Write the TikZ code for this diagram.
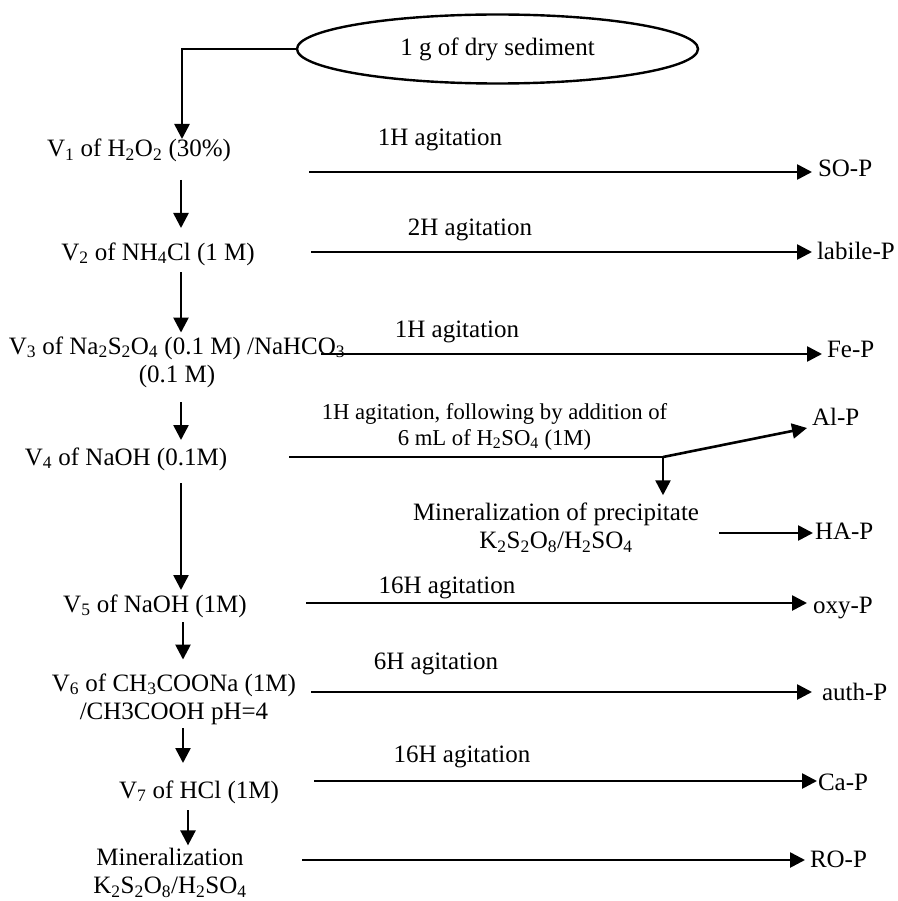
\documentclass[tikz,border=0pt]{standalone}
\usepackage{fontspec}
\setmainfont{Liberation Serif}
\usetikzlibrary{arrows.meta,shapes.geometric}
\begin{document}
\begin{tikzpicture}[x=1pt,y=-1pt,
  every node/.style={inner sep=0pt, outer sep=0pt, font=\fontsize{25}{28}\selectfont},
  vnode/.style={anchor=base, text height=18pt, text depth=6pt},
  mnode/.style={align=center},
  res/.style={anchor=base west, text height=18pt, text depth=6pt},
  lbl/.style={anchor=base},
  conn/.style={line width=2.6pt},
  arr/.style={conn, -{Triangle[length=15pt,width=15pt]}},
]
\useasboundingbox (0,0) rectangle (897,901);

% start
\node[draw, ellipse, line width=2.4pt, minimum width=401pt, minimum height=69pt] (sed) at (497.5,49) {1 g of dry sediment};

% left column
\node[vnode] (v1) at (139,157) {V\textsubscript{1} of H\textsubscript{2}O\textsubscript{2} (30\%)};
\node[vnode] (v2) at (158,260) {V\textsubscript{2} of NH\textsubscript{4}Cl (1 M)};
\node[mnode] (v3) at (177,362) {V\textsubscript{3} of Na\textsubscript{2}S\textsubscript{2}O\textsubscript{4} (0.1 M) /NaHCO\textsubscript{3}\\(0.1 M)};
\node[vnode] (v4) at (126,465) {V\textsubscript{4} of NaOH (0.1M)};
\node[vnode] (v5) at (155,612) {V\textsubscript{5} of NaOH (1M)};
\node[mnode] (v6) at (174,699) {V\textsubscript{6} of CH\textsubscript{3}COONa (1M)\\/CH3COOH pH=4};
\node[vnode] (v7) at (199,798) {V\textsubscript{7} of HCl (1M)};
\node[mnode] (min) at (170,873) {Mineralization\\K\textsubscript{2}S\textsubscript{2}O\textsubscript{8}/H\textsubscript{2}SO\textsubscript{4}};

% labels
\node[lbl] (t1) at (440,146) {1H agitation};
\node[lbl] (t2) at (470,236) {2H agitation};
\node[lbl] (t3) at (457,337) {1H agitation};
\node[mnode, font=\fontsize{22.7}{25.5}\selectfont] (t4) at (494.5,427) {1H agitation, following by addition of\\6 mL of H\textsubscript{2}SO\textsubscript{4} (1M)};
\node[mnode] (minp) at (556,528) {Mineralization of precipitate\\K\textsubscript{2}S\textsubscript{2}O\textsubscript{8}/H\textsubscript{2}SO\textsubscript{4}};
\node[lbl] (t5) at (447,593) {16H agitation};
\node[lbl] (t6) at (436,669) {6H agitation};
\node[lbl] (t7) at (462,762) {16H agitation};

% results
\node[res] (so) at (818,177) {SO-P};
\node[res] (lab) at (817,259) {labile-P};
\node[res] (fe) at (827,357) {Fe-P};
\node[res] (al) at (812,425) {Al-P};
\node[res] (ha) at (815,539) {HA-P};
\node[res] (oxy) at (813,613) {oxy-P};
\node[res] (auth) at (822,700) {auth-P};
\node[res] (ca) at (818,790) {Ca-P};
\node[res] (ro) at (810,867) {RO-P};

% helper coordinates
\coordinate (h1) at (309,172);
\coordinate (h2) at (311,252);
\coordinate (h3) at (321,354);
\coordinate (h4) at (289,457);
\coordinate (br) at (663,457);
\coordinate (h5) at (306,603);
\coordinate (h6) at (311,692);
\coordinate (h7) at (314,781);
\coordinate (h8) at (302,860);
\coordinate (cS) at (182,0);
\coordinate (cA) at (181,0);
\coordinate (cB) at (183,0);
\coordinate (cC) at (188,0);

% vertical flow
\draw[arr] (sed.west) -| (cS |- v1.north);
\draw[arr, shorten <=17pt, shorten >=14pt] (v1.south -| cA) -- (v2.north -| cA);
\draw[arr, shorten <=6pt, shorten >=4pt] (v2.south -| cA) -- (v3.north -| cA);
\draw[arr, shorten <=15pt, shorten >=7pt] (v3.south -| cA) -- (v4.north -| cA);
\draw[arr, shorten <=12pt, shorten >=4pt] (v4.south -| cA) -- (v5.north -| cA);
\draw[arr, shorten <=4pt, shorten >=14pt] (v5.south -| cB) -- (v6.north -| cB);
\draw[arr, shorten <=4pt, shorten >=17pt] (v6.south -| cB) -- (v7.north -| cB);
\draw[arr, shorten <=6pt, shorten >=3pt] (v7.south -| cC) -- (min.north -| cC);

% horizontal flows
\draw[arr, shorten >=6pt] (h1) -- (h1 -| so.west);
\draw[arr, shorten >=5pt] (h2) -- (h2 -| lab.west);
\draw[arr, shorten >=5pt] (h3) -- (h3 -| fe.west);
\draw[conn] (h4) -- (br);
\draw[arr] (br) -- ([shift={(-5pt,3pt)}]al.south west);
\draw[arr, shorten >=8pt] (br) -- (br |- minp.north);
\draw[arr, shorten <=20pt, shorten >=2pt] (minp.east |- ha.west) -- (ha.west);
\draw[arr, shorten >=6pt] (h5) -- (h5 -| oxy.west);
\draw[arr, shorten >=10pt] (h6) -- (h6 -| auth.west);
\draw[arr, shorten >=1pt] (h7) -- (h7 -| ca.west);
\draw[arr, shorten >=5pt] (h8) -- (h8 -| ro.west);
\end{tikzpicture}
\end{document}
